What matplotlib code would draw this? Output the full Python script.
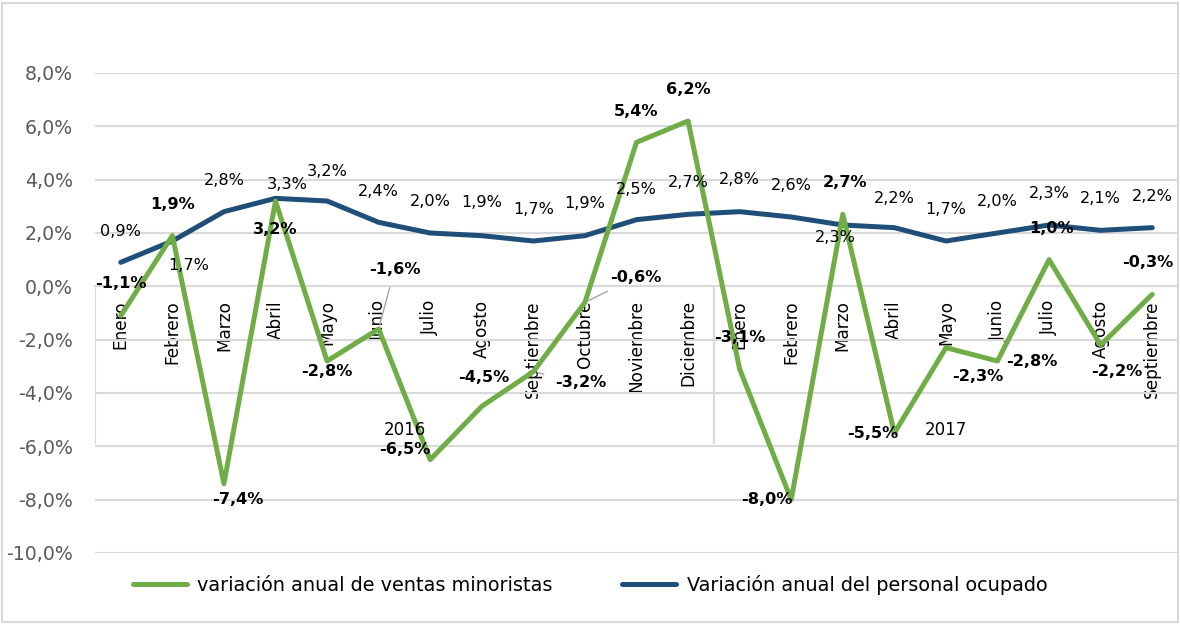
import numpy as np
import matplotlib
matplotlib.use("Agg")
import matplotlib.pyplot as plt
from matplotlib.patches import Rectangle

# months (two years, multi-level category axis)
meses = ["Enero", "Febrero", "Marzo", "Abril", "Mayo", "Junio", "Julio", "Agosto",
         "Septiembre", "Octubre", "Noviembre", "Diciembre",
         "Enero", "Febrero", "Marzo", "Abril", "Mayo", "Junio", "Julio", "Agosto",
         "Septiembre"]
anios = ["2016", "2017"]
meses_por_anio = [12, 9]

ventas = [-1.1, 1.9, -7.4, 3.2, -2.8, -1.6, -6.5, -4.5, -3.2, -0.6, 5.4, 6.2,
          -3.1, -8.0, 2.7, -5.5, -2.3, -2.8, 1.0, -2.2, -0.3]
personal = [0.9, 1.7, 2.8, 3.3, 3.2, 2.4, 2.0, 1.9, 1.7, 1.9, 2.5, 2.7,
            2.8, 2.6, 2.3, 2.2, 1.7, 2.0, 2.3, 2.1, 2.2]

nombre_ventas = "variación anual de ventas minoristas"
nombre_personal = "Variación anual del personal ocupado"

# label offsets in pixels (dx, dy) relative to each point
off_ventas = [(0, 32), (0, 31), (14, -16), (0, -29), (0, -10), (16, 60), (-25, 10),
              (2, 29), (47, -11), (51, 25), (0, 31), (0, 31),
              (0, 32), (-24, 0), (2, 32), (-22, 0), (32, -29), (34, 0), (2, 31),
              (16, -26), (-4, 32)]
off_personal = [(0, 31), (16, -25), (0, 31), (12, 14), (0, 30), (0, 31), (0, 32),
                (0, 33), (0, 31), (0, 32), (0, 30), (0, 32),
                (0, 32), (0, 32), (-7, -13), (0, 29), (0, 32), (0, 31), (0, 31),
                (0, 32), (0, 31)]
con_guia = [5, 8, 9]

verde = "#70AD47"
azul = "#1F4E79"
gris = "#D9D9D9"

plt.rcParams["font.family"] = "DejaVu Sans"

fig = plt.figure(figsize=(11.8, 6.25), dpi=100)
ax = fig.add_axes([95 / 1180, 1 - 553 / 625, 1083 / 1180, 480 / 625])

x = np.arange(len(meses))
ax.plot(x, personal, color=azul, lw=3.6, solid_capstyle="round", zorder=3,
        label=nombre_personal)
ax.plot(x, ventas, color=verde, lw=3.6, solid_capstyle="round", zorder=4,
        label=nombre_ventas)

ax.set_xlim(-0.5, len(meses) - 0.5)
ax.set_ylim(-10, 8)
ax.set_yticks(np.arange(-10, 9, 2))
ax.set_yticklabels([("%.1f%%" % v).replace(".", ",") for v in np.arange(-10, 9, 2)],
                   fontsize=13.6, color="#595959")
ax.tick_params(axis="y", length=0, pad=16)
ax.grid(axis="y", color=gris, lw=1.5, zorder=0)
for s in ["top", "right", "left"]:
    ax.spines[s].set_visible(False)
ax.spines["bottom"].set_position(("data", 0))
ax.spines["bottom"].set_color(gris)
ax.spines["bottom"].set_linewidth(1.5)

ax.set_xticks(x)
ax.set_xticklabels(meses, rotation=90, fontsize=12.2, va="top", ha="center")
ax.tick_params(axis="x", length=0, pad=10)

# second-level category axis
bordes = np.concatenate([[0], np.cumsum(meses_por_anio)]) - 0.5
ax.vlines(bordes, -5.9, 0, color=gris, lw=1.5, zorder=1)
for i, a in enumerate(anios):
    ax.text((bordes[i] + bordes[i + 1]) / 2, -5.4, a, fontsize=12, ha="center",
            va="center", zorder=5)

def etiqueta(v):
    return ("%.1f%%" % v).replace(".", ",")

for i, v in enumerate(personal):
    ax.annotate(etiqueta(v), (x[i], v), xytext=off_personal[i],
                textcoords="offset pixels", ha="center", va="center",
                fontsize=11.6, color="black", zorder=6)
for i, v in enumerate(ventas):
    ap = None
    if i in con_guia:
        ap = dict(arrowstyle="-", color="#A6A6A6", lw=1, shrinkA=6, shrinkB=3)
    ax.annotate(etiqueta(v), (x[i], v), xytext=off_ventas[i],
                textcoords="offset pixels", ha="center", va="center",
                fontsize=11.6, fontweight="bold", color="black", zorder=6,
                arrowprops=ap)

h, l = ax.get_legend_handles_labels()
fig.legend(h[::-1], l[::-1], loc="center", bbox_to_anchor=(0.5, 1 - 585 / 625),
           ncol=2, frameon=False, fontsize=13.9, handlelength=2.8,
           handletextpad=0.55, columnspacing=3.6)

fig.patches.append(Rectangle((2 / 1180, 3 / 625), 1176 / 1180, 619 / 625,
                             transform=fig.transFigure, fill=False,
                             edgecolor=gris, lw=1.5))

fig.savefig("out.png", dpi=100)
